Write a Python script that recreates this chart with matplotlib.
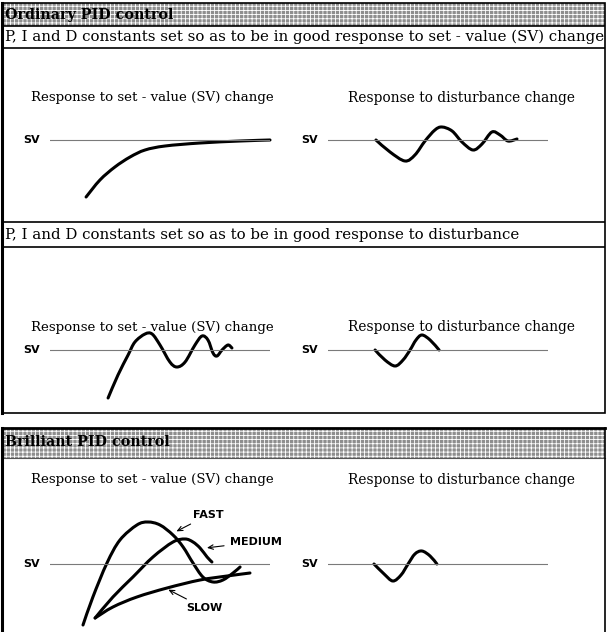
import numpy as np
import matplotlib
matplotlib.use('Agg')
import matplotlib.pyplot as plt
from matplotlib.patches import Rectangle, PathPatch
from matplotlib.path import Path

# ---- data: time (0..100 across the SV line) and response (SV = 100) ----
top_sv_t = [16.4, 22.7, 29.5, 36.4, 43.2, 52.3, 68.2, 86.4, 100]
top_sv_r = [43, 60, 73, 83, 90, 94, 97, 99, 100]

top_dist_t = [21.8, 28.2, 35.0, 39.5, 44.1, 48.6, 51.8, 56.4, 60.9, 65.9, 70.0, 74.5, 78.2, 81.8, 85.9]
top_dist_r = [100, 88, 79, 85, 99, 110, 113, 109, 98, 90, 96, 108, 105, 99, 101]

mid_sv_t = [26.4, 30.9, 35.5, 38.6, 43.2, 46.4, 50.0, 54.5, 57.7, 61.4, 65.9, 69.1, 71.8, 74.1, 75.9, 78.2, 80.9, 82.7]
mid_sv_r = [52, 75, 95, 108, 116, 116, 105, 88, 83, 88, 105, 114, 110, 97, 94, 100, 105, 102]

mid_dist_t = [21.4, 25.9, 30.5, 34.1, 37.3, 40.0, 42.7, 46.4, 50.5]
mid_dist_r = [100, 90, 84, 90, 100, 110, 115, 110, 100]

fast_t = [15.0, 19.5, 25.9, 31.8, 39.5, 44.5, 50.0, 55.9, 60.5, 65.0, 69.5, 74.1, 78.6, 83.2, 86.4]
fast_r = [39, 67, 101, 124, 139, 142, 139, 129, 117, 101, 87, 82, 84, 91, 97]
medium_t = [20.5, 28.6, 37.7, 46.8, 55.9, 61.4, 65.0, 68.2, 71.4, 73.6]
medium_r = [46, 67, 87, 107, 122, 125, 122, 116, 107, 102]
slow_t = [20.5, 28.6, 39.5, 53.2, 68.2, 80.5, 90.9]
slow_r = [46, 57, 67, 76, 84, 88, 91]

bot_dist_t = [20.9, 25.5, 29.5, 33.2, 36.4, 39.5, 42.7, 46.4, 49.5]
bot_dist_r = [100, 90, 83, 89, 100, 110, 113, 108, 100]

W, H = 607, 632
fig = plt.figure(figsize=(W / 100, H / 100), dpi=100)
fig.patch.set_facecolor('white')
plt.rcParams['hatch.linewidth'] = 0.6

# page layer in pixel units
ax0 = fig.add_axes([0, 0, 1, 1])
ax0.set_xlim(0, W)
ax0.set_ylim(H, 0)
ax0.axis('off')

SERIF = 'DejaVu Serif'
SANS = 'DejaVu Sans'
GRAY = '#8e8e8e'


def hline(y, x0=2, x1=605, lw=1.2):
    ax0.plot([x0, x1], [y, y], color='black', lw=lw, solid_capstyle='butt')


def header(y0, h):
    # dithered grey band
    ax0.add_patch(Rectangle((2, y0), 603, h, facecolor=GRAY, edgecolor='white',
                            hatch='++++', lw=0))


# top box
header(3, 23)
ax0.add_patch(Rectangle((2, 3), 603, 410, facecolor='none', edgecolor='black', lw=1.2))
ax0.plot([2, 2], [3, 413], color='black', lw=2.2)
hline(26)
hline(48)
hline(222)
hline(247)
ax0.text(5, 14.5, 'Ordinary PID control', fontsize=10.3, fontweight='bold', family=SERIF,
         va='center', ha='left')
ax0.text(5, 37, 'P, I and D constants set so as to be in good response to set - value (SV) change',
         fontsize=10.8, family=SERIF, va='center', ha='left')
ax0.text(5, 235, 'P, I and D constants set so as to be in good response to disturbance',
         fontsize=10.8, family=SERIF, va='center', ha='left')

# bottom box
header(428, 30)
ax0.plot([2, 605], [428, 428], color='black', lw=2.0)
ax0.plot([2, 605], [458, 458], color='#555555', lw=0.8)
ax0.plot([2, 2], [428, H], color='black', lw=2.2)
ax0.plot([605, 605], [428, H], color='black', lw=1.2)
ax0.text(5, 442, 'Brilliant PID control', fontsize=10.3, fontweight='bold', family=SERIF,
         va='center', ha='left')

# panel titles
for ty in (98, 327, 480):
    ax0.text(152, ty, 'Response to set - value (SV) change', fontsize=9.6, family=SERIF,
             ha='center', va='center')
    ax0.text(462, ty, 'Response to disturbance change', fontsize=9.9, family=SERIF,
             ha='center', va='center')


def smooth(t, r):
    # Catmull-Rom through the read points, drawn as cubic Bezier segments
    p = np.column_stack([t, r]).astype(float)
    verts, codes = [p[0]], [Path.MOVETO]
    for i in range(len(p) - 1):
        p0 = p[i - 1] if i > 0 else p[i]
        p3 = p[i + 2] if i + 2 < len(p) else p[i + 1]
        verts += [p[i] + (p[i + 1] - p0) / 6, p[i + 1] - (p3 - p[i]) / 6, p[i + 1]]
        codes += [Path.CURVE4] * 3
    return Path(verts, codes)


def draw(ax, t, r):
    ax.add_patch(PathPatch(smooth(t, r), facecolor='none', edgecolor='black', lw=2.2,
                           capstyle='round', joinstyle='round', clip_on=False))


def panel(x0, x1, ysv):
    ax = fig.add_axes([x0 / W, (H - ysv - 60) / H, (x1 - x0) / W, 120 / H])
    ax.set_xlim(0, 100)
    ax.set_ylim(40, 160)
    ax.axis('off')
    ax.axhline(100, color='#7a7a7a', lw=0.8)
    ax.text(-4.5, 100, 'SV', fontsize=8, fontweight='bold', family=SANS,
            ha='right', va='center')
    return ax


ax = panel(50, 270, 140)
draw(ax, top_sv_t, top_sv_r)
ax = panel(328, 548, 140)
draw(ax, top_dist_t, top_dist_r)

ax = panel(50, 270, 350)
draw(ax, mid_sv_t, mid_sv_r)
ax = panel(328, 548, 350)
draw(ax, mid_dist_t, mid_dist_r)

ax = panel(50, 270, 564)
draw(ax, fast_t, fast_r)
draw(ax, medium_t, medium_r)
draw(ax, slow_t, slow_r)
arrow = dict(arrowstyle='->,head_length=0.45,head_width=0.2', color='black', lw=0.8,
             shrinkA=2, shrinkB=1)
lab = dict(fontsize=8, fontweight='bold', family=SANS, va='center', ha='center',
           textcoords='offset pixels', arrowprops=arrow)
ax.annotate('FAST', xy=(fast_t[7] + 1, fast_r[7] + 3), xytext=(33, 17), **lab)
ax.annotate('MEDIUM', xy=(medium_t[7] + 2.5, medium_r[7]), xytext=(50, 6), **lab)
ax.annotate('SLOW', xy=(slow_t[3], slow_r[3] - 1), xytext=(37, -19), **lab)

ax = panel(328, 548, 564)
draw(ax, bot_dist_t, bot_dist_r)

fig.savefig('out.png', dpi=100, facecolor='white')
